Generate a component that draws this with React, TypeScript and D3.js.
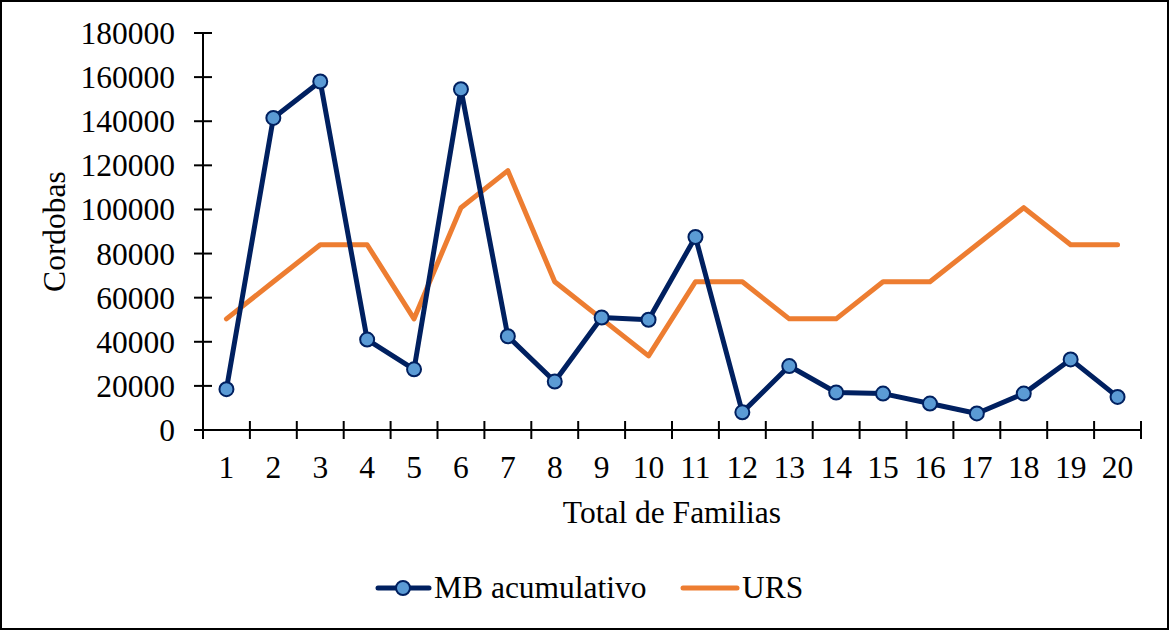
import React from "react";
import * as d3 from "d3";

const categories = ["1","2","3","4","5","6","7","8","9","10","11","12","13","14","15","16","17","18","19","20"];
const mbAcumulativo = [18500,141500,158000,41000,27500,154500,42500,22000,51000,50000,87500,8000,29000,17000,16500,12000,7500,16500,32000,15000];
const urs = [50400,67200,84000,84000,50400,100800,117600,67200,50400,33600,67200,67200,50400,50400,67200,67200,84000,100800,84000,84000];
const yTicks = [0,20000,40000,60000,80000,100000,120000,140000,160000,180000];

const W = 1170, H = 631;
const left = 203, right = 1141, top = 33, bottom = 430;
const NAVY = "#002060";
const ORANGE = "#ED7D31";
const MARK = "#5B9BD5";
const FONT = "'Liberation Serif', 'Times New Roman', serif";
const FS = 31.5;

export default function App() {
  const x = d3.scaleBand<string>().domain(categories).range([left, right]);
  const y = d3.scaleLinear().domain([0, 180000]).range([bottom, top]);
  const cx = (c: string) => (x(c) as number) + x.bandwidth() / 2;
  const line = d3.line<number>().x((_, i) => cx(categories[i])).y((v) => y(v));
  const xTickPos = categories.map((c) => x(c) as number).concat([right]);

  return (
    <svg width={W} height={H} style={{ position: "absolute", left: 0, top: 0, fontFamily: FONT }}>
      <rect x={1} y={1} width={W - 3} height={H - 3} fill="#fff" stroke="#000" strokeWidth={2} />
      {/* y axis */}
      <line x1={left} x2={left} y1={top} y2={bottom} stroke="#000" strokeWidth={2} />
      {yTicks.map((t) => (
        <g key={t}>
          <line x1={left - 9} x2={left + 9} y1={y(t)} y2={y(t)} stroke="#000" strokeWidth={2} />
          <text x={left - 28} y={y(t)} dy="0.35em" textAnchor="end" fontSize={FS}>{t}</text>
        </g>
      ))}
      {/* x axis */}
      <line x1={left - 9} x2={right} y1={bottom} y2={bottom} stroke="#000" strokeWidth={2} />
      {xTickPos.map((p, i) => (
        <line key={i} x1={p} x2={p} y1={bottom - 9} y2={bottom + 9} stroke="#000" strokeWidth={2} />
      ))}
      {categories.map((c) => (
        <text key={c} x={cx(c)} y={478} textAnchor="middle" fontSize={FS}>{c}</text>
      ))}
      <text x={672} y={523} textAnchor="middle" fontSize={FS}>Total de Familias</text>
      <text transform={`translate(65,${(top + bottom) / 2}) rotate(-90)`} textAnchor="middle" fontSize={FS}>Cordobas</text>
      {/* series */}
      <path d={line(urs) || ""} fill="none" stroke={ORANGE} strokeWidth={5} strokeLinejoin="round" strokeLinecap="round" />
      <path d={line(mbAcumulativo) || ""} fill="none" stroke={NAVY} strokeWidth={5} strokeLinejoin="round" strokeLinecap="round" />
      {mbAcumulativo.map((v, i) => (
        <circle key={i} cx={cx(categories[i])} cy={y(v)} r={7} fill={MARK} stroke={NAVY} strokeWidth={2} />
      ))}
      {/* legend */}
      <line x1={378} x2={429} y1={588} y2={588} stroke={NAVY} strokeWidth={5} strokeLinecap="round" />
      <circle cx={403} cy={588} r={7} fill={MARK} stroke={NAVY} strokeWidth={2} />
      <text x={434} y={598} fontSize={FS}>MB acumulativo</text>
      <line x1={683} x2={737} y1={588} y2={588} stroke={ORANGE} strokeWidth={5} strokeLinecap="round" />
      <text x={742} y={598} fontSize={FS}>URS</text>
    </svg>
  );
}
